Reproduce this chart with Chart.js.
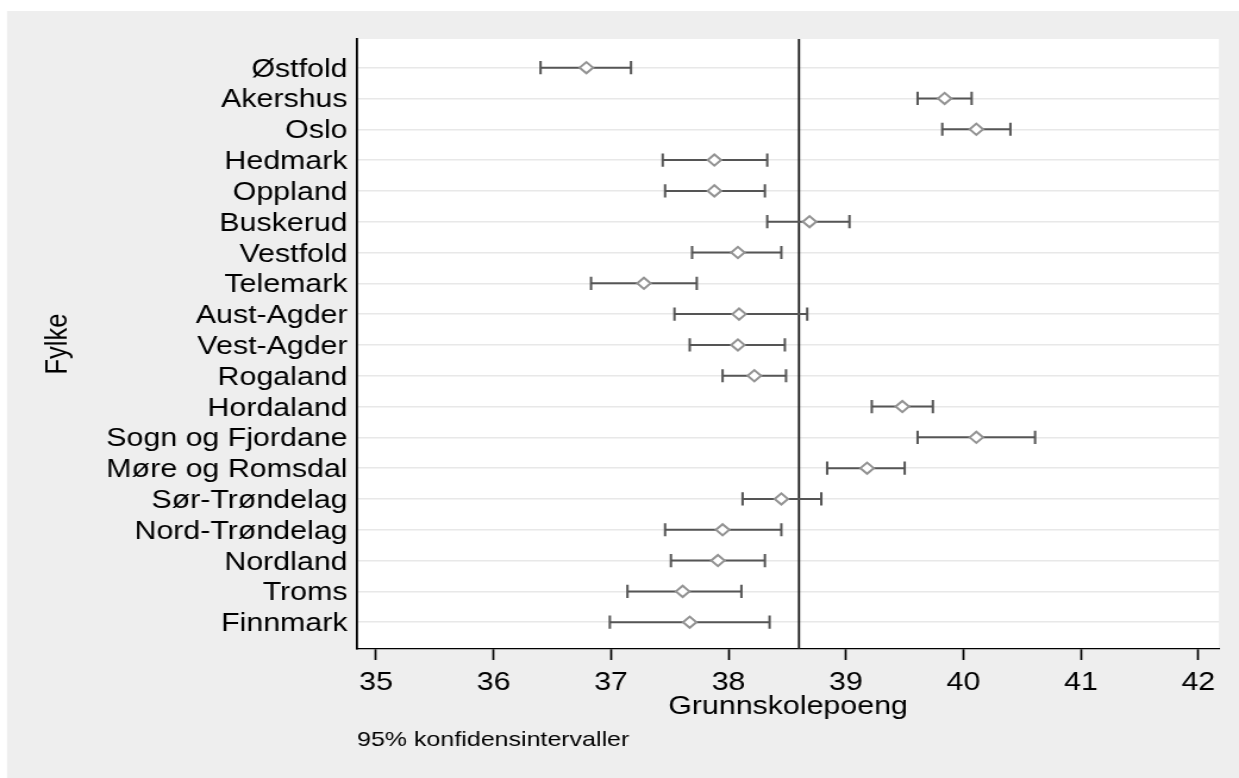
<!DOCTYPE html>
<html lang="no">
<head>
<meta charset="utf-8">
<title>Grunnskolepoeng etter fylke</title>
<script src="https://cdn.jsdelivr.net/npm/chart.js@4.4.1/dist/chart.umd.min.js"></script>
<style>
  html, body { margin: 0; padding: 0; background: #fff; overflow: hidden; }
  /* the graph is laid out narrow and widened to the page width */
  #wrap {
    position: absolute; left: 0; top: 0;
    width: 1041px; height: 778px;
    transform: scaleX(1.1902); transform-origin: 0 0;
  }
</style>
</head>
<body>
<div id="wrap"><canvas id="chart"></canvas></div>
<script>
const fylker = [
  'Østfold', 'Akershus', 'Oslo', 'Hedmark', 'Oppland', 'Buskerud', 'Vestfold',
  'Telemark', 'Aust-Agder', 'Vest-Agder', 'Rogaland', 'Hordaland',
  'Sogn og Fjordane', 'Møre og Romsdal', 'Sør-Trøndelag', 'Nord-Trøndelag',
  'Nordland', 'Troms', 'Finnmark'
]
const snitt = [
  36.79, 39.84, 40.11, 37.88, 37.88, 38.69, 38.08, 37.28, 38.09, 38.08,
  38.22, 39.48, 40.11, 39.18, 38.45, 37.95, 37.91, 37.61, 37.67
]
const nedre = [
  36.40, 39.61, 39.82, 37.44, 37.46, 38.33, 37.69, 36.83, 37.54, 37.67,
  37.95, 39.22, 39.61, 38.84, 38.12, 37.46, 37.51, 37.14, 36.99
]
const ovre = [
  37.17, 40.07, 40.40, 38.33, 38.31, 39.03, 38.45, 37.73, 38.67, 38.48,
  38.49, 39.74, 40.61, 39.50, 38.79, 38.45, 38.31, 38.11, 38.35
]
const xTicks = [35, 36, 37, 38, 39, 40, 41, 42]
const landssnitt = 38.6

const FONT = "'Liberation Sans', Arial, Helvetica, sans-serif"
const STRETCH = 1239 / 1041
const yMin = -0.93
const yMax = 18.87

// one broken line: a segment per fylke, NaN points split them
const intervaller = []
fylker.forEach((_, i) => {
  intervaller.push({ x: nedre[i], y: i }, { x: ovre[i], y: i }, { x: NaN, y: NaN })
})

const bakgrunn = {
  id: 'bakgrunn',
  beforeDraw(chart) {
    const { ctx, chartArea: a, width, height } = chart
    ctx.save()
    ctx.fillStyle = '#eeeeee'
    ctx.fillRect(7 / STRETCH, 11, width, height)
    ctx.fillStyle = '#ffffff'
    ctx.fillRect(a.left, a.top, a.right - a.left, a.bottom - a.top)
    ctx.restore()
  }
}

new Chart(document.getElementById('chart'), {
  type: 'scatter',
  data: {
    datasets: [
      {
        label: 'Landssnitt',
        data: [{ x: landssnitt, y: yMin }, { x: landssnitt, y: yMax }],
        showLine: true,
        borderColor: '#222222',
        borderWidth: 1.9,
        pointRadius: 0,
        order: 3
      },
      {
        label: '95% KI',
        data: intervaller,
        showLine: true,
        spanGaps: false,
        borderColor: '#555555',
        borderWidth: 2,
        pointStyle: 'line',
        pointRotation: 90,
        pointRadius: 6.6,
        pointBorderColor: '#555555',
        pointBorderWidth: 2,
        order: 2
      },
      {
        label: 'Snitt',
        data: snitt.map((v, i) => ({ x: v, y: i })),
        pointStyle: 'rectRot',
        pointRadius: 5.6,
        pointBorderColor: '#939393',
        pointBorderWidth: 2,
        pointBackgroundColor: '#ffffff',
        order: 1
      }
    ]
  },
  options: {
    responsive: true,
    maintainAspectRatio: false,
    animation: false,
    events: [],
    layout: { padding: { top: 39, right: 16.8, bottom: 0, left: 0 } },
    plugins: {
      legend: { display: false },
      tooltip: { enabled: false },
      subtitle: {
        display: true,
        text: '95% konfidensintervaller',
        position: 'bottom',
        align: 'start',
        fullSize: false,
        color: '#000',
        font: { family: FONT, size: 21, weight: 'normal' },
        padding: { top: 6, bottom: 24.7 }
      }
    },
    scales: {
      x: {
        type: 'linear',
        min: 34.838,
        max: 42.176,
        afterBuildTicks: scale => { scale.ticks = xTicks.map(v => ({ value: v })) },
        afterFit: scale => { scale.height = 73.1 },
        grid: {
          drawOnChartArea: false,
          drawTicks: true,
          tickLength: 11,
          tickWidth: 1.7,
          tickColor: '#000'
        },
        border: { display: true, color: '#000', width: 1.3 },
        ticks: {
          color: '#000',
          padding: 7.5,
          autoSkip: false,
          maxRotation: 0,
          font: { family: FONT, size: 25.5 }
        },
        title: {
          display: true,
          text: 'Grunnskolepoeng',
          color: '#000',
          font: { family: FONT, size: 25.5, weight: 'normal' },
          padding: 0
        }
      },
      y: {
        type: 'linear',
        reverse: true,
        min: yMin,
        max: yMax,
        afterBuildTicks: scale => { scale.ticks = fylker.map((_, i) => ({ value: i })) },
        afterFit: scale => { scale.width = 300 },
        grid: { color: '#e8e8e8', lineWidth: 1.4, drawTicks: false },
        border: { display: true, color: '#000', width: 1.8 },
        ticks: {
          color: '#000',
          padding: 8,
          labelOffset: 2,
          autoSkip: false,
          font: { family: FONT, size: 25.5 },
          callback: v => fylker[v]
        },
        title: {
          display: true,
          text: 'Fylke',
          color: '#000',
          font: { family: FONT, size: 25.5, weight: 'normal' },
          padding: { top: 33.4, bottom: 0 }
        }
      }
    }
  },
  plugins: [bakgrunn]
})
</script>
</body>
</html>
